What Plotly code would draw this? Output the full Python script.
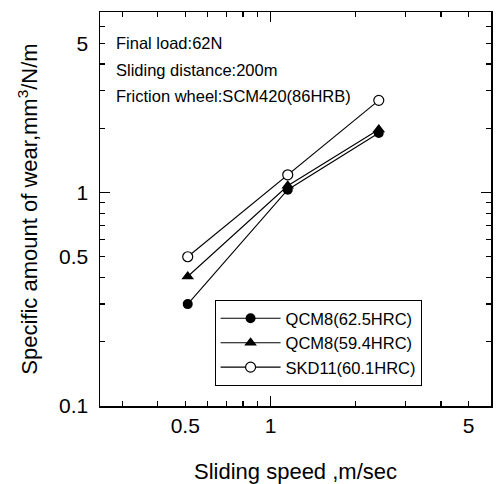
import plotly.graph_objects as go

speed = [0.51, 1.15, 2.41]
qcm8_625 = [0.30, 1.03, 1.90]
qcm8_594 = [0.404, 1.075, 1.97]
skd11 = [0.50, 1.21, 2.70]

names = ["QCM8(62.5HRC)", "QCM8(59.4HRC)", "SKD11(60.1HRC)"]
notes = ["Final load:62N", "Sliding distance:200m", "Friction wheel:SCM420(86HRB)"]

x_labels = [0.5, 1, 5]
y_labels = [0.1, 0.5, 1, 5]
x_minor = [0.3, 0.4, 0.6, 0.7, 0.8, 0.9, 2, 3, 4]
y_minor = [0.2, 0.3, 0.4, 0.6, 0.7, 0.8, 0.9, 2, 3, 4, 6]

FONT = "Liberation Sans, Arial, sans-serif"


def tick_arrays(labels, minor):
    vals = sorted(labels + minor)
    text = [str(v) if v in labels else "" for v in vals]
    return vals, text


xv, xt = tick_arrays(x_labels, x_minor)
yv, yt = tick_arrays(y_labels, y_minor)

fig = go.Figure()
series = [
    (qcm8_625, names[0], dict(symbol="circle", size=10, color="black")),
    (qcm8_594, names[1], dict(symbol="triangle-up", size=11, color="black")),
    (skd11, names[2], dict(symbol="circle", size=10, color="white", line=dict(width=1.2, color="black"))),
]
for ys, nm, mk in series:
    fig.add_trace(go.Scatter(x=speed, y=ys, name=nm, mode="lines+markers",
                             line=dict(color="black", width=1.1), marker=mk))

# overlay axes carrying the longer tick at the decade
fig.add_trace(go.Scatter(x=speed, y=skd11, xaxis="x2", yaxis="y2", mode="markers",
                         marker=dict(opacity=0), showlegend=False, hoverinfo="skip"))

xr = [-0.60206, 0.778151]
yr = [-1, 0.845098]

common = dict(type="log", showline=True, linecolor="black", linewidth=1.5,
              mirror="allticks", ticks="inside", tickcolor="black", showgrid=False,
              zeroline=False)

fig.update_layout(
    width=497, height=484,
    margin=dict(l=100, r=4, t=12, b=78),
    paper_bgcolor="white", plot_bgcolor="white",
    font=dict(family=FONT, color="black"),
    hovermode=False,
    xaxis=dict(**common, range=xr, tickmode="array", tickvals=xv, ticktext=xt,
               ticklen=5, tickwidth=1.3, tickfont=dict(size=21),
               title=dict(text="Sliding speed ,m/sec", font=dict(size=22), standoff=28)),
    yaxis=dict(**common, range=yr, tickmode="array", tickvals=yv, ticktext=yt,
               ticklen=5, tickwidth=1.3, tickfont=dict(size=21), ticklabelstandoff=6,
               title=dict(text="Specific amount of wear,mm<sup>3</sup>/N/m",
                          font=dict(size=22), standoff=15)),
    xaxis2=dict(**common, overlaying="x", range=xr, tickmode="array", tickvals=[1],
                ticklen=10, tickwidth=1.3, showticklabels=False),
    yaxis2=dict(**common, overlaying="y", range=yr, tickmode="array", tickvals=[1],
                ticklen=10, tickwidth=1.3, showticklabels=False),
    legend=dict(x=0.293, y=0.269, xanchor="left", yanchor="top",
                bordercolor="black", borderwidth=1, bgcolor="white",
                font=dict(size=16.5, family=FONT), tracegroupgap=0,
                itemwidth=60, entrywidth=220, entrywidthmode="pixels"),
    showlegend=True,
)

for t, yp in zip(notes, [0.922, 0.854, 0.786]):
    fig.add_annotation(text=t, xref="paper", yref="paper", x=0.036, y=yp,
                       xanchor="left", yanchor="middle", showarrow=False,
                       font=dict(size=16.5, family=FONT))

fig.write_html("out.html", config={"displayModeBar": False, "staticPlot": True},
               post_script="document.body.style.margin='0';document.body.style.overflow='hidden';")
